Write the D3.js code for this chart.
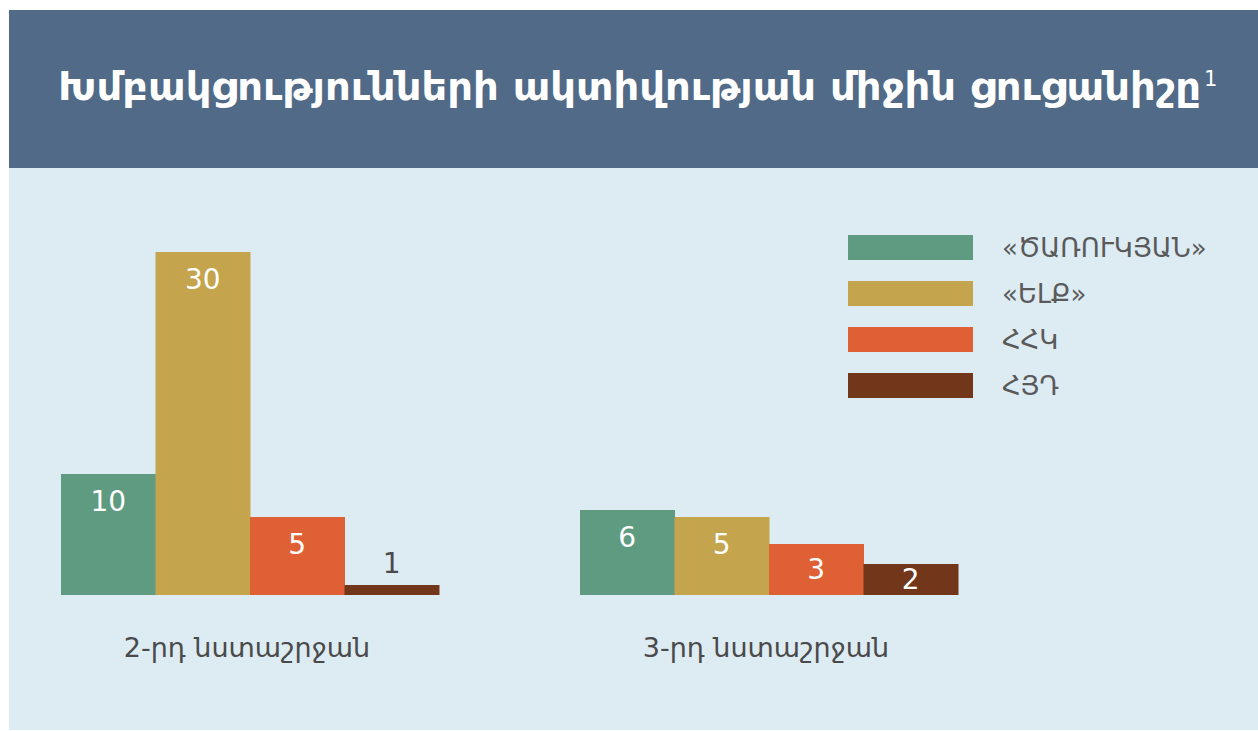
<!DOCTYPE html>
<html>
<head>
<meta charset="utf-8">
<script src="https://cdn.jsdelivr.net/npm/d3@7"></script>
<style>
  body { margin: 0; background: #fff; }
  text { font-family: "DejaVu Sans", "Noto Sans", sans-serif; }
</style>
</head>
<body>
<div id="chart"></div>
<script>
// sessions, parties and the values per session
const sessions = ["2-րդ նստաշրջան", "3-րդ նստաշրջան"];
const parties = ["«ԾԱՌՈՒԿՅԱՆ»", "«ԵԼՔ»", "ՀՀԿ", "ՀՅԴ"];
const session2 = [10, 30, 5, 1];
const session3 = [6, 5, 3, 2];
const colors = ["#5f9b80", "#c4a44c", "#e06035", "#72361b"];
const title = "Խմբակցությունների ակտիվության միջին ցուցանիշը";

const W = 1258, H = 731;
const svg = d3.select("#chart").append("svg").attr("width", W).attr("height", H);

// panel
svg.append("rect").attr("x", 9).attr("y", 10).attr("width", W - 9).attr("height", 158).attr("fill", "#506a87");
svg.append("rect").attr("x", 9).attr("y", 168).attr("width", W - 9).attr("height", 562).attr("fill", "#ddebf3");

// title, stretched to the width it has in the picture
const t = svg.append("text").attr("x", 58).attr("y", 100)
  .attr("fill", "#fff").attr("font-size", 39).attr("font-weight", "bold")
  .text(title);
t.attr("textLength", 1143).attr("lengthAdjust", "spacingAndGlyphs");
svg.append("text").attr("x", 1204).attr("y", 86).attr("fill", "#fff")
  .attr("font-size", 21).text("1");

// the original graphic is not drawn to scale, so the height scale is piecewise
const baseline = 595;
const hScale = d3.scaleLinear()
  .domain([0, 1, 2, 3, 5, 6, 10, 30])
  .range([0, 10, 31, 51, 78, 85, 121, 343]);

const groupX = d3.scaleBand().domain(sessions).range([61, 958]).paddingInner(0.2717).paddingOuter(0);
const barX = d3.scaleBand().domain(parties).range([0, groupX.bandwidth()]);

const rows = [session2, session3];
sessions.forEach((s, si) => {
  const g = svg.append("g").attr("transform", `translate(${groupX(s)},0)`);
  const data = rows[si].map((v, i) => ({ party: parties[i], value: v, color: colors[i] }));

  g.selectAll("rect").data(data).join("rect")
    .attr("x", d => barX(d.party))
    .attr("y", d => baseline - hScale(d.value))
    .attr("width", barX.bandwidth() + 0.5)
    .attr("height", d => hScale(d.value))
    .attr("fill", d => d.color);

  g.selectAll("text.val").data(data).join("text").attr("class", "val")
    .attr("x", d => barX(d.party) + barX.bandwidth() / 2)
    .attr("y", d => {
      const h = hScale(d.value);
      return h < 20 ? baseline - h - 22 : baseline - h + Math.min(27, h / 2);
    })
    .attr("text-anchor", "middle").attr("dominant-baseline", "central")
    .attr("font-size", 28)
    .attr("fill", d => hScale(d.value) < 20 ? "#4a4a4a" : "#fff")
    .text(d => d.value);

  svg.append("text")
    .attr("x", groupX(s) + groupX.bandwidth() / 2 - 3)
    .attr("y", 657)
    .attr("text-anchor", "middle").attr("font-size", 27).attr("fill", "#4a4a4a")
    .text(s);
});

// legend
const lg = svg.append("g").attr("transform", "translate(848,235)");
const item = lg.selectAll("g").data(parties).join("g")
  .attr("transform", (d, i) => `translate(0,${i * 46})`);
item.append("rect").attr("width", 125).attr("height", 25).attr("fill", (d, i) => colors[i]);
item.append("text").attr("x", 154).attr("y", 12.5).attr("dominant-baseline", "central")
  .attr("font-size", 26).attr("fill", "#5a5a5a").text(d => d);
</script>
</body>
</html>
